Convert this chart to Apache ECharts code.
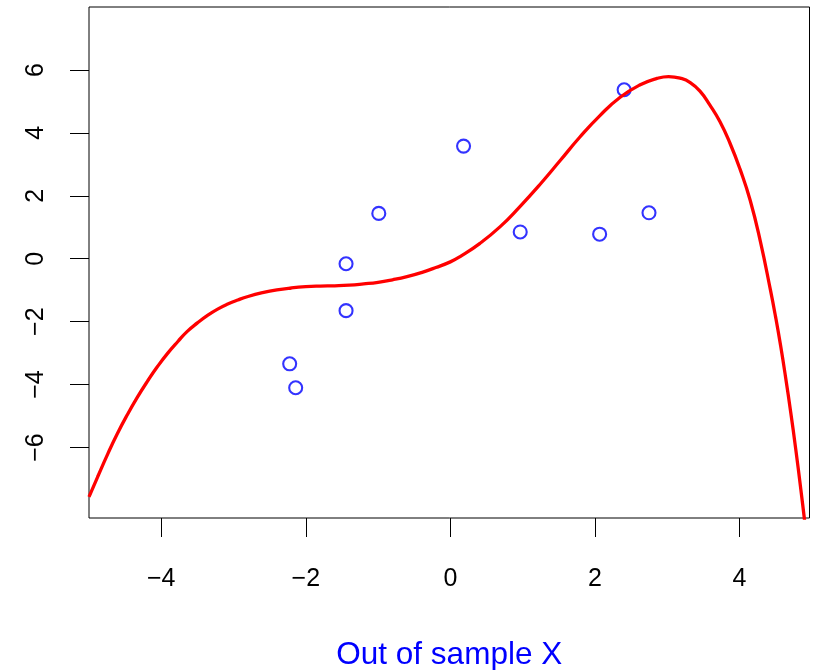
<!DOCTYPE html>
<html>
<head>
<meta charset="utf-8">
<script src="https://cdn.jsdelivr.net/npm/echarts@6/dist/echarts.min.js"></script>
<style>html,body{margin:0;padding:0;background:#fff;}#c{width:813px;height:670px;}</style>
</head>
<body>
<div id="c"></div>
<script>
// Sample points
const pointX = [-2.223, -2.14, -1.443, -1.443, -0.99, 0.183, 0.967, 2.066, 2.405, 2.749];
const pointY = [-3.34, -4.10, -0.16, -1.65, 1.44, 3.58, 0.85, 0.78, 5.37, 1.46];

// Fitted curve
const curveX = [-5.0, -4.88, -4.74, -4.61, -4.47, -4.33, -4.19, -4.05, -3.91, -3.77, -3.64, -3.50, -3.36, -3.22, -3.08, -2.94, -2.80, -2.60, -2.40, -2.20, -2.00, -1.80, -1.60, -1.40, -1.20, -1.00, -0.80, -0.60, -0.40, -0.20, 0.00, 0.13, 0.41, 0.69, 0.96, 1.24, 1.52, 1.79, 2.07, 2.35, 2.62, 2.86, 3.02, 3.18, 3.32, 3.46, 3.59, 3.73, 3.87, 4.01, 4.15, 4.29, 4.43, 4.50, 4.57, 4.64, 4.71, 4.78, 4.85, 4.90, 4.93];
const curveY = [-7.57, -6.93, -6.20, -5.57, -4.96, -4.40, -3.89, -3.42, -3.00, -2.63, -2.31, -2.04, -1.80, -1.60, -1.44, -1.31, -1.20, -1.08, -0.99, -0.93, -0.89, -0.87, -0.86, -0.84, -0.80, -0.75, -0.67, -0.57, -0.44, -0.28, -0.10, 0.06, 0.49, 1.02, 1.65, 2.36, 3.12, 3.86, 4.55, 5.13, 5.52, 5.73, 5.79, 5.74, 5.60, 5.31, 4.89, 4.36, 3.67, 2.84, 1.85, 0.55, -1.00, -1.84, -2.76, -3.78, -4.88, -6.06, -7.33, -8.28, -8.85];

const xTicks = [-4, -2, 0, 2, 4];
const yTicks = [-6, -4, -2, 0, 2, 4, 6];
const xLabel = 'Out of sample X';

const fmt = v => String(v).replace('-', '\u2212');
const font = 'Liberation Sans, Arial, Helvetica, sans-serif';

const chart = echarts.init(document.getElementById('c'), null, {renderer: 'canvas'});
chart.setOption({
  animation: false,
  backgroundColor: '#ffffff',
  grid: {left: 89, right: 3.5, top: 7, bottom: 152, containLabel: false, outerBoundsMode: 'none', show: true, borderColor: '#000', borderWidth: 1, backgroundColor: 'transparent'},
  xAxis: {
    type: 'value', min: -5.0, max: 4.97,
    axisLine: {show: false, onZero: false},
    splitLine: {show: false},
    axisTick: {show: true, length: 19, lineStyle: {color: '#000', width: 1}, customValues: xTicks},
    axisLabel: {customValues: xTicks, formatter: fmt, color: '#000', fontSize: 25, fontFamily: font, margin: 49},
    name: xLabel, nameLocation: 'middle', nameGap: 121,
    nameTextStyle: {color: '#0000FF', fontSize: 31.5, fontFamily: font}
  },
  yAxis: {
    type: 'value', min: -8.24, max: 8.0,
    axisLine: {show: false, onZero: false},
    splitLine: {show: false},
    axisTick: {show: true, length: 19, lineStyle: {color: '#000', width: 1}, customValues: yTicks},
    axisLabel: {customValues: yTicks, formatter: fmt, color: '#000', fontSize: 25, fontFamily: font, margin: 40, rotate: 90}
  },
  series: [
    {
      type: 'line',
      data: curveX.map((x, i) => [x, curveY[i]]),
      smooth: 0.5,
      showSymbol: false,
      clip: true,
      lineStyle: {color: '#FF0000', width: 3.3}
    },
    {
      type: 'scatter',
      data: pointX.map((x, i) => [x, pointY[i]]),
      symbol: 'circle',
      symbolSize: 13,
      itemStyle: {color: 'transparent', borderColor: '#0000FF', borderWidth: 2.1}
    }
  ]
});
</script>
</body>
</html>
